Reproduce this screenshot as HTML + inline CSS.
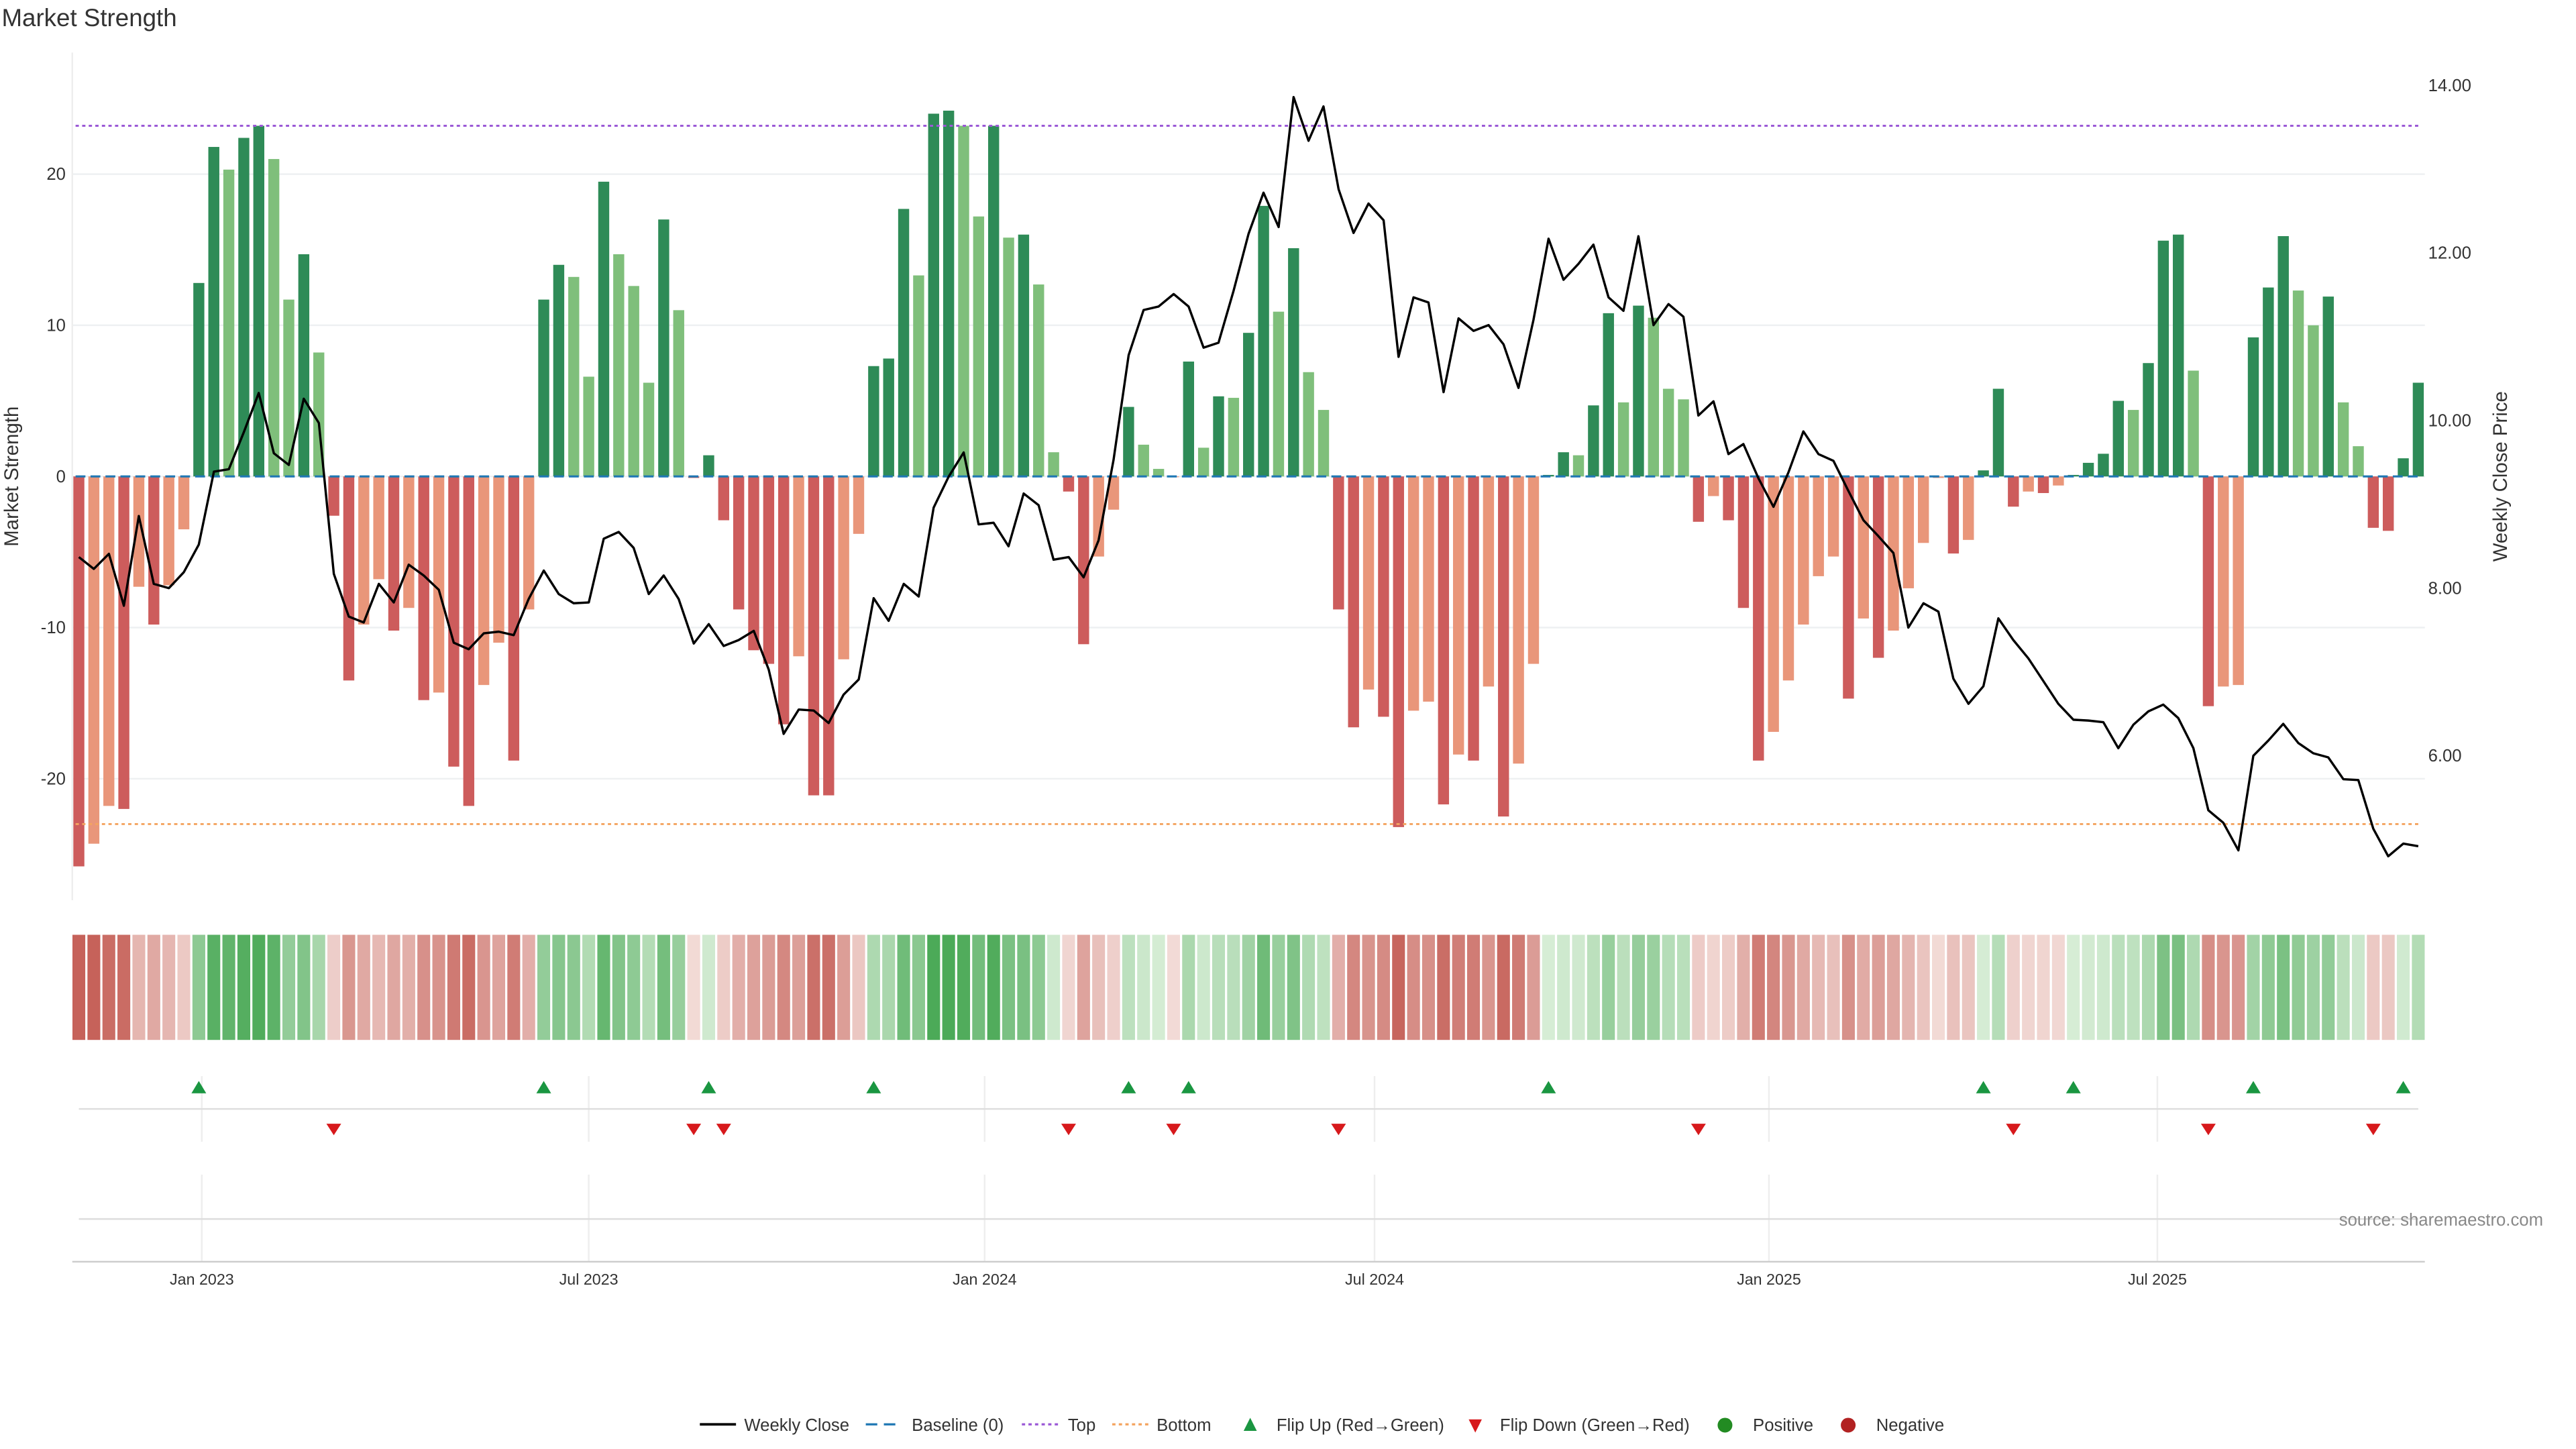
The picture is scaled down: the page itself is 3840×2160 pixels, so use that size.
<!DOCTYPE html>
<html><head><meta charset="utf-8"><style>
html,body{margin:0;padding:0;background:#fff;}
svg{display:block;font-family:"Liberation Sans","DejaVu Sans",sans-serif;}
</style></head><body>
<svg id="chart" xmlns="http://www.w3.org/2000/svg" width="3840" height="2160" viewBox="0 0 1568 882" preserveAspectRatio="none">
<text x="1" y="16" font-size="15" fill="#333">Market Strength</text>
<g id="grid"></g><g id="bars"></g><g id="refs"></g><g id="line"></g><g id="heat"></g><g id="flips"></g><g id="axes"></g>
<text x="1548" y="746" font-size="10.5" fill="#888" text-anchor="end">source: sharemaestro.com</text>
<g id="legend" font-size="10.5" fill="#333">
 <g><line x1="426" y1="867" x2="448" y2="867" stroke="#000" stroke-width="1.5"/><text x="453" y="871">Weekly Close</text></g>
 <g><line x1="527" y1="867" x2="549" y2="867" stroke="#1f77b4" stroke-width="1.3" stroke-dasharray="7,4"/><text x="555" y="871">Baseline (0)</text></g>
 <g><line x1="622" y1="867" x2="644" y2="867" stroke="#9b59d6" stroke-width="1.3" stroke-dasharray="2,2"/><text x="650" y="871">Top</text></g>
 <g><line x1="677" y1="867" x2="699" y2="867" stroke="#f4a460" stroke-width="1.3" stroke-dasharray="2,2"/><text x="704" y="871">Bottom</text></g>
 <g><path d="M757,871 L765,871 L761,863 Z" fill="#1a9641"/><text x="777" y="871">Flip Up (Red→Green)</text></g>
 <g><path d="M894,864 L902,864 L898,872 Z" fill="#d7191c"/><text x="913" y="871">Flip Down (Green→Red)</text></g>
 <g><circle cx="1050" cy="867.5" r="4.5" fill="#228b22"/><text x="1067" y="871">Positive</text></g>
 <g><circle cx="1125" cy="867.5" r="4.5" fill="#b22222"/><text x="1142" y="871">Negative</text></g>
</g>
</svg>
<script>
const strength = [-25.8,-24.3,-21.8,-22,-7.3,-9.8,-7.2,-3.5,12.8,21.8,20.3,22.4,23.2,21,11.7,14.7,8.2,-2.6,-13.5,-9.8,-6.8,-10.2,-8.7,-14.8,-14.3,-19.2,-21.8,-13.8,-11,-18.8,-8.8,11.7,14,13.2,6.6,19.5,14.7,12.6,6.2,17,11,-0.1,1.4,
-2.9,-8.8,-11.5,-12.4,-16.4,-11.9,-21.1,-21.1,-12.1,-3.8,7.3,7.8,17.7,13.3,24,24.2,23.2,17.2,23.2,15.8,16,12.7,1.6,-1,-11.1,-5.3,-2.2,4.6,2.1,0.5,-0.05,7.6,1.9,5.3,5.2,9.5,17.9,10.9,15.1,6.9,4.4,-8.8,
-16.6,-14.1,-15.9,-23.2,-15.5,-14.9,-21.7,-18.4,-18.8,-13.9,-22.5,-19,-12.4,0.1,1.6,1.4,4.7,10.8,4.9,11.3,10.5,5.8,5.1,-3,-1.3,-2.9,-8.7,-18.8,-16.9,-13.5,-9.8,-6.6,-5.3,-14.7,-9.4,-12,-10.2,-7.4,-4.4,-0.1,-5.1,-4.2,
0.4,5.8,-2,-1,-1.1,-0.6,0.1,0.9,1.5,5,4.4,7.5,15.6,16,7,-15.2,-13.9,-13.8,9.2,12.5,15.9,12.3,10,11.9,4.9,2,-3.4,-3.6,1.2,6.2];
const strongFlag = [1,0,0,1,0,1,0,0,1,1,0,1,1,0,0,1,0,1,1,0,0,1,0,1,0,1,1,0,0,1,0,1,1,0,0,1,0,0,0,1,0,1,1,
1,1,1,1,1,0,1,1,0,0,1,1,1,0,1,1,0,0,1,0,1,0,0,1,1,0,0,1,0,0,0,1,0,1,0,1,1,0,1,0,0,1,
1,0,1,1,0,0,1,0,1,0,1,0,0,1,1,0,1,1,0,1,0,0,0,1,0,1,1,1,0,0,0,0,0,1,0,1,0,0,0,0,1,0,
1,1,1,0,1,0,1,1,1,1,0,1,1,1,0,1,0,0,1,1,1,0,0,1,0,0,1,1,1,1];
const closePrice = [8.37,8.23,8.41,7.79,8.86,8.05,8.00,8.19,8.52,9.39,9.42,9.86,10.33,9.61,9.47,10.26,9.97,8.17,7.66,7.59,8.05,7.83,8.28,8.15,7.98,7.35,7.27,7.46,7.48,7.44,7.87,8.21,7.93,7.82,7.83,8.59,8.67,8.48,7.93,8.15,7.87,7.34,7.57,
7.31,7.38,7.49,7.03,6.26,6.55,6.54,6.39,6.73,6.91,7.88,7.61,8.05,7.90,8.96,9.33,9.62,8.76,8.78,8.50,9.13,8.99,8.34,8.37,8.13,8.57,9.53,10.78,11.32,11.36,11.51,11.36,10.87,10.93,11.55,12.23,12.72,12.31,13.86,13.34,13.75,12.76,
12.24,12.59,12.39,10.76,11.47,11.41,10.34,11.22,11.07,11.14,10.91,10.39,11.20,12.17,11.68,11.87,12.10,11.47,11.31,12.20,11.14,11.39,11.24,10.06,10.23,9.60,9.72,9.31,8.97,9.38,9.87,9.60,9.52,9.16,8.81,8.62,8.42,7.53,7.82,7.72,6.92,6.62,
6.83,7.64,7.38,7.16,6.89,6.62,6.43,6.42,6.40,6.09,6.37,6.53,6.61,6.45,6.09,5.35,5.20,4.87,6.00,6.18,6.38,6.15,6.03,5.98,5.72,5.71,5.13,4.80,4.95,4.92];
const topLevel = 23.2;
const bottomLevel = -23.0;
const strengthTicks = [20,10,0,-10,-20];
const priceTicks = [14,12,10,8,6];
const monthLabels = ["Jan 2023","Jul 2023","Jan 2024","Jul 2024","Jan 2025","Jul 2025"];
const monthWeekIndex = [8.2,34.0,60.4,86.4,112.7,138.6];

const NS="http://www.w3.org/2000/svg";
const X0=48, X1=1472;
const xScale = i => X0 + i*(X1-X0)/(strength.length-1);
const yS = v => 290 - v*9.2;
const yP = p => 52 + (14-p)*51;
function mk(tag, attrs, parent){const e=document.createElementNS(NS,tag);for(const k in attrs)e.setAttribute(k,attrs[k]);document.getElementById(parent).appendChild(e);return e;}

strengthTicks.forEach(t=>{
  const g=mk('line',{x1:44,x2:1476,y1:yS(t),y2:yS(t),stroke:'#eef0f2','stroke-width':1},'grid');
  
  
  const l=mk('text',{x:40,y:yS(t)+3.5,'font-size':10.5,fill:'#333','text-anchor':'end'},'axes');
  l.textContent=t;
  
  
});
priceTicks.forEach(p=>{
  const l=mk('text',{x:1478,y:yP(p)+3.5,'font-size':10.5,fill:'#333'},'axes');
  l.textContent=p.toFixed(2);
  
  
});
const ax=mk('line',{x1:44,x2:44,y1:32,y2:548,stroke:'#eee'},'axes');


const yt=mk('text',{x:11,y:290,'font-size':12,fill:'#333','text-anchor':'middle',transform:'rotate(-90 11 290)'},'axes');
yt.textContent='Market Strength';


const yt2=mk('text',{x:1526,y:290,'font-size':12,fill:'#333','text-anchor':'middle',transform:'rotate(-90 1526 290)'},'axes');
yt2.textContent='Weekly Close Price';


const bx=mk('line',{x1:44,x2:1476,y1:768,y2:768,stroke:'#ccc'},'axes');


[675,742].forEach(y=>{
  const s=mk('line',{x1:48,x2:1472,y1:y,y2:y,stroke:'#ddd'},'axes');
  
  
});
monthLabels.forEach((m,k)=>{
  const x=xScale(monthWeekIndex[k]);
  [[655,695],[715,768]].forEach(r=>{
    const v=mk('line',{x1:x,x2:x,y1:r[0],y2:r[1],stroke:'#eee'},'grid');
    
    
  });
  const t=mk('text',{x:x,y:782,'font-size':9.5,fill:'#333','text-anchor':'middle'},'axes');
  t.textContent=m;
  
  
});

const bw=6.7;
strength.forEach((v,i)=>{
  const x=xScale(i);
  const col = v>0 ? (strongFlag[i]?'#2e8b57':'#7fbf7b') : (strongFlag[i]?'#cd5c5c':'#e9967a');
  const y=Math.min(yS(v),yS(0)), h=Math.max(Math.abs(yS(v)-yS(0)),0.3);
  const b=mk('rect',{x:x-bw/2,y:y,width:bw,height:h,fill:col},'bars');
  
  
});
const bl=mk('line',{x1:46,x2:1474,y1:yS(0),y2:yS(0),stroke:'#1f77b4','stroke-width':1.3,'stroke-dasharray':'6,3.1'},'refs');


const tl=mk('line',{x1:46,x2:1474,y1:yS(topLevel),y2:yS(topLevel),stroke:'#9b59d6','stroke-width':1.2,'stroke-dasharray':'2,2'},'refs');


const btl=mk('line',{x1:46,x2:1474,y1:yS(bottomLevel),y2:yS(bottomLevel),stroke:'#f4a460','stroke-width':1.2,'stroke-dasharray':'2,2'},'refs');


const pts=closePrice.map((p,i)=>xScale(i).toFixed(1)+','+yP(p).toFixed(1)).join(' ');
const pl=mk('polyline',{points:pts,fill:'none',stroke:'#000','stroke-width':1.4,'stroke-linejoin':'round'},'line');


function mix(a,b,t){return 'rgb('+a.map((c,k)=>Math.round(c+(b[k]-c)*t)).join(',')+')';}
strength.forEach((v,i)=>{
  const t=Math.min(1,Math.abs(v)/24);
  const col = v>0 ? mix([215,237,214],[76,170,88],t) : mix([242,218,214],[198,98,90],t);
  const c=mk('rect',{x:xScale(i)-3.9,y:569,width:7.8,height:64,fill:col},'heat');
  
  
});
for(let i=1;i<strength.length;i++){
  const x=xScale(i);
  if(strength[i]>0 && strength[i-1]<=0){
    const f=mk('path',{d:`M${x-4.5},665.5 L${x+4.5},665.5 L${x},658 Z`,fill:'#1a9641'},'flips');
    
    
  } else if(strength[i]<=0 && strength[i-1]>0){
    const f=mk('path',{d:`M${x-4.5},684 L${x+4.5},684 L${x},691 Z`,fill:'#d7191c'},'flips');
    
    
  }
}
</script>
</body></html>
